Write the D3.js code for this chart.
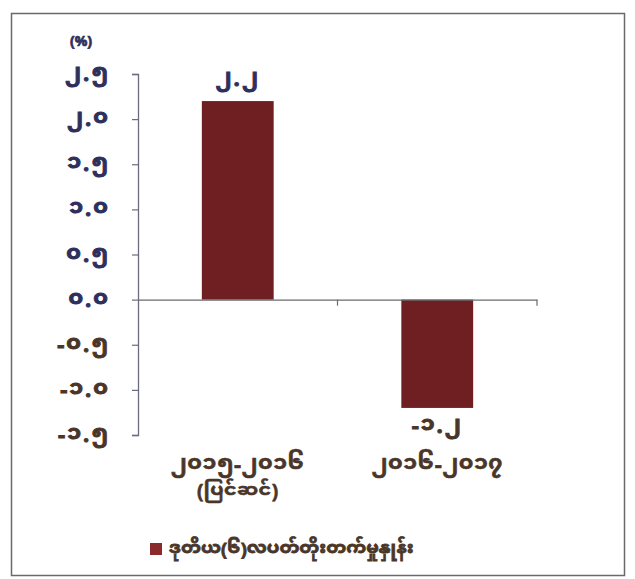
<!DOCTYPE html>
<html>
<head>
<meta charset="utf-8">
<script src="https://cdn.jsdelivr.net/npm/d3@7"></script>
<style>
  html, body { margin: 0; padding: 0; background: #ffffff; }
  svg { display: block; }
  text { font-family: "Noto Sans Myanmar UI", "Noto Sans Myanmar", "Myanmar Text", Padauk, "Noto Sans", "DejaVu Sans", sans-serif; font-weight: bold; }
</style>
</head>
<body>
<svg id="chart" width="635" height="579"></svg>
<script>
// ---- data ----
const categories = ["၂၀၁၅-၂၀၁၆", "၂၀၁၆-၂၀၁၇"];
const categorySubLabels = ["(ပြင်ဆင်)", ""];
const values = [2.2, -1.2];
const valueLabels = ["၂.၂", "-၁.၂"];
const tickValues = [2.5, 2.0, 1.5, 1.0, 0.5, 0.0, -0.5, -1.0, -1.5];
const tickLabels = ["၂.၅", "၂.၀", "၁.၅", "၁.၀", "၀.၅", "၀.၀", "-၀.၅", "-၁.၀", "-၁.၅"];
const unitLabel = "(%)";
const seriesName = "ဒုတိယ(၆)လပတ်တိုးတက်မှုနှုန်း";

// ---- layout ----
const svg = d3.select("#chart");
const plot = { left: 138, right: 537, top: 74, bottom: 435 };
const posColor = "#2f2f5c";
const negColor = "#4a3628";
const barColor = "#6f1e22";

// frame
svg.append("rect")
  .attr("x", 11.5).attr("y", 13.5)
  .attr("width", 613).attr("height", 562)
  .attr("fill", "none").attr("stroke", "#6a6a6a").attr("stroke-width", 1.5);

const y = d3.scaleLinear().domain([-1.5, 2.5]).range([plot.bottom, plot.top]);
const x = d3.scaleBand().domain(categories).range([plot.left, plot.right]).paddingInner(0.64).paddingOuter(0.32);

// y axis
const yAxis = d3.axisLeft(y).tickValues(tickValues).tickSize(6).tickFormat("");
const yg = svg.append("g").attr("transform", `translate(${plot.left},0)`).call(yAxis);
yg.select(".domain").attr("stroke", "#6b6b80").attr("stroke-width", 1.3);
yg.selectAll(".tick line").attr("stroke", "#6b6b80").attr("stroke-width", 1.2);

// y tick labels
svg.append("g").selectAll("text")
  .data(tickValues)
  .join("text")
  .attr("x", 110)
  .attr("y", d => y(d) + 7)
  .attr("text-anchor", "end")
  .attr("font-size", 22)
  .attr("letter-spacing", 2)
  .attr("stroke-width", 1)
  .attr("fill", d => d >= 0 ? posColor : negColor)
  .attr("stroke", d => d >= 0 ? posColor : negColor)
  .text((d, i) => tickLabels[i]);

// unit label
svg.append("text")
  .attr("x", 81).attr("y", 46)
  .attr("text-anchor", "middle")
  .attr("font-size", 14)
  .attr("stroke-width", 0.7)
  .attr("fill", posColor)
  .attr("stroke", posColor)
  .text(unitLabel);

// bars
svg.append("g").selectAll("rect")
  .data(values)
  .join("rect")
  .attr("x", (d, i) => x(categories[i]))
  .attr("width", x.bandwidth())
  .attr("y", d => Math.min(y(d), y(0)))
  .attr("height", d => Math.abs(y(d) - y(0)))
  .attr("fill", barColor);

// zero axis with category separators
const xOuter = d3.scaleBand().domain(categories).range([plot.left, plot.right]);
const xAxis = d3.axisBottom(xOuter).tickSize(0).tickFormat("");
const xg = svg.append("g").attr("transform", `translate(0,${y(0)})`).call(xAxis);
xg.select(".domain").attr("stroke", "#6b6b6b").attr("stroke-width", 1.3);
xg.selectAll(".sep")
  .data(categories)
  .join("line")
  .attr("class", "sep")
  .attr("x1", d => xOuter(d) + xOuter.bandwidth())
  .attr("x2", d => xOuter(d) + xOuter.bandwidth())
  .attr("y1", 0).attr("y2", 6)
  .attr("stroke", "#6b6b6b").attr("stroke-width", 1.2);

// value labels
svg.append("g").selectAll("text")
  .data(values)
  .join("text")
  .attr("x", (d, i) => x(categories[i]) + x.bandwidth() / 2)
  .attr("y", d => d >= 0 ? y(d) - 15 : y(d) + 25)
  .attr("text-anchor", "middle")
  .attr("font-size", 22)
  .attr("letter-spacing", 2)
  .attr("stroke-width", 1)
  .attr("fill", d => d >= 0 ? posColor : negColor)
  .attr("stroke", d => d >= 0 ? posColor : negColor)
  .text((d, i) => valueLabels[i]);

// category labels (two-line, wrapped in one text element)
const catText = svg.append("g").selectAll("text.cat")
  .data(categories)
  .join("text")
  .attr("class", "cat")
  .attr("text-anchor", "middle")
  .attr("font-size", 22)
  .attr("letter-spacing", 0.5)
  .attr("stroke-width", 0.6)
  .attr("fill", negColor)
  .attr("stroke", negColor);
catText.append("tspan")
  .attr("x", d => x(d) + x.bandwidth() / 2)
  .attr("y", 472)
  .text(d => d);
catText.append("tspan")
  .attr("x", d => x(d) + x.bandwidth() / 2)
  .attr("y", 498)
  .attr("font-size", 19)
  .text((d, i) => categorySubLabels[i]);

// legend
const lg = svg.append("g").attr("transform", "translate(150,543)");
lg.append("rect").attr("x", 0).attr("y", 0).attr("width", 12).attr("height", 12).attr("fill", "#8a2a2a");
lg.append("text").attr("x", 19).attr("y", 13).attr("font-size", 18)
  .attr("stroke-width", 0.8).attr("stroke", negColor)
  .attr("fill", negColor).text(seriesName);
</script>
</body>
</html>
